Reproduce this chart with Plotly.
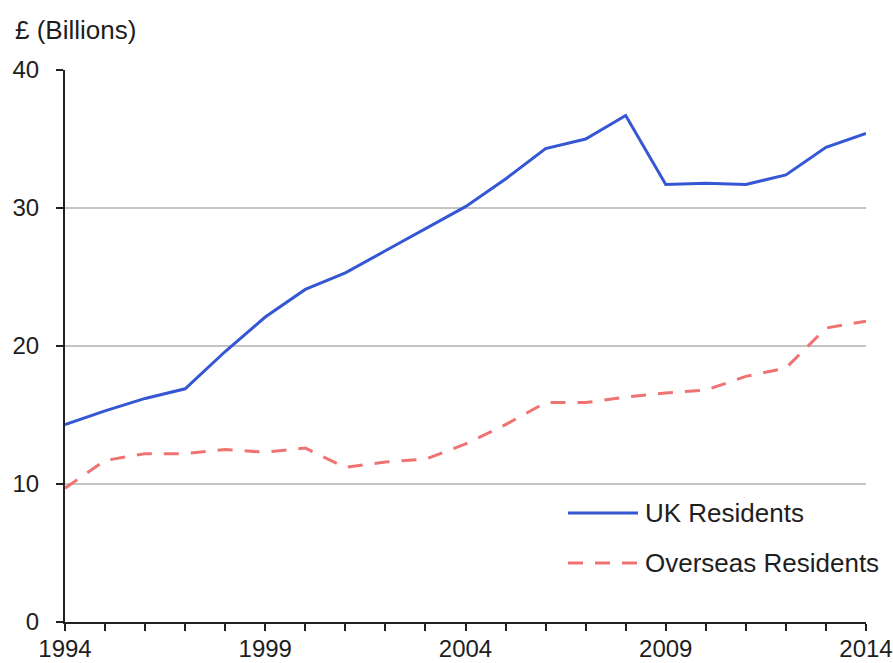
import plotly.graph_objects as go

years = list(range(1994, 2015))
uk_residents = [14.3, 15.3, 16.2, 16.9, 19.6, 22.1, 24.1, 25.3, 26.9, 28.5, 30.1,
                32.1, 34.3, 35.0, 36.7, 31.7, 31.8, 31.7, 32.4, 34.4, 35.4]
overseas_residents = [9.7, 11.7, 12.2, 12.2, 12.5, 12.3, 12.6, 11.2, 11.6, 11.8, 12.9,
                      14.3, 15.9, 15.9, 16.3, 16.6, 16.8, 17.8, 18.4, 21.3, 21.8]
series_names = ["UK Residents", "Overseas Residents"]
y_title = "£ (Billions)"

BLUE = "#3557d3"
RED = "#f07373"
FONT = "Liberation Sans, Arial, sans-serif"
TXT = "#1e1e1e"

fig = go.Figure()
fig.add_trace(go.Scatter(x=years, y=uk_residents, mode="lines", name=series_names[0],
                         line=dict(color=BLUE, width=3), showlegend=False))
fig.add_trace(go.Scatter(x=years, y=overseas_residents, mode="lines", name=series_names[1],
                         line=dict(color=RED, width=3, dash="15px,12px"), showlegend=False))

W, H = 893, 663
PL, PR, PT, PB = 65, 866, 70, 622
L, T, R, B = PL, PT, W - PR, H - PB
pw, ph = PR - PL, PB - PT

def px(x):
    return (x - PL) / pw

def py(y):
    return (PB - y) / ph

# manual legend
legend_rows = [(513, BLUE, "solid"), (563, RED, "15px,12px")]
for (yy, col, dash), name in zip(legend_rows, series_names):
    fig.add_shape(type="line", xref="paper", yref="paper", x0=px(568), x1=px(638),
                  y0=py(yy), y1=py(yy), line=dict(color=col, width=3, dash=dash))
    fig.add_annotation(xref="paper", yref="paper", x=px(643), y=py(yy), text=name,
                       showarrow=False, xanchor="left", yanchor="middle",
                       font=dict(size=26, color=TXT, family=FONT))

fig.add_annotation(xref="paper", yref="paper", x=px(13), y=py(30), text=y_title,
                   showarrow=False, xanchor="left", yanchor="middle",
                   font=dict(size=26, color=TXT, family=FONT))

fig.update_layout(
    width=W, height=H,
    margin=dict(l=L, r=R, t=T, b=B, pad=0, autoexpand=False),
    plot_bgcolor="white", paper_bgcolor="white",
    font=dict(family=FONT, size=24, color=TXT),
    xaxis=dict(range=[1994, 2014], tick0=1994, dtick=5, ticks="outside", ticklen=7,
               tickwidth=2, tickcolor="#222222", showline=True, linecolor="#222222",
               linewidth=2, showgrid=False, zeroline=False, automargin=False,
               minor=dict(dtick=1, ticks="outside", ticklen=7, tickwidth=2,
                          tickcolor="#222222", showgrid=False),
               tickfont=dict(size=24), ticklabelstandoff=-3),
    yaxis=dict(range=[0, 40], tick0=0, dtick=10, ticks="outside", ticklen=7,
               tickwidth=2, tickcolor="#222222", showline=True, linecolor="#222222",
               linewidth=2, showgrid=True, gridcolor="#c4c4c4", gridwidth=2,
               zeroline=False, automargin=False, tickfont=dict(size=24),
               ticklabelstandoff=12),
)

fig.write_html("out.html",
               config={"displayModeBar": False},
               post_script="document.body.style.margin='0';"
                           "document.body.style.overflow='hidden';")
